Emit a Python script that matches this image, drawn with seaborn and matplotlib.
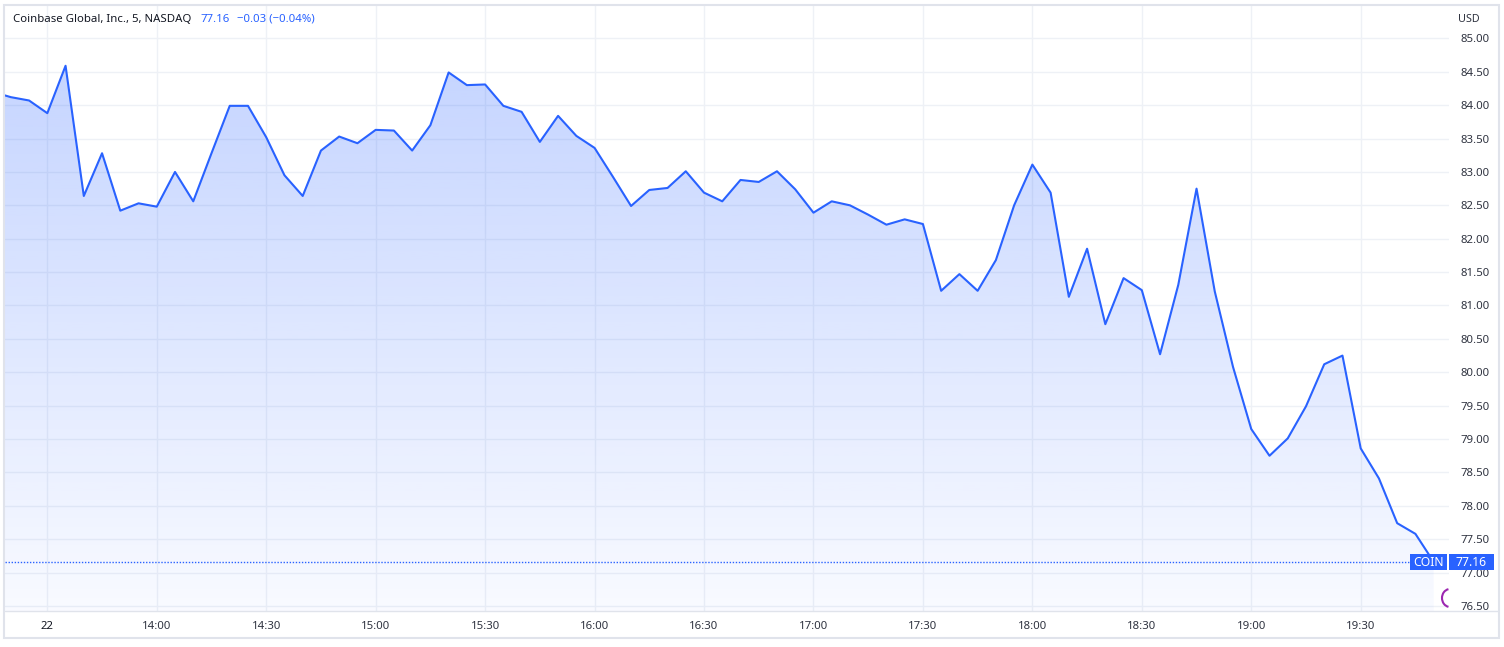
import matplotlib
matplotlib.use("Agg")
import matplotlib.pyplot as plt
import numpy as np
import pandas as pd
import seaborn as sns
from matplotlib.colors import to_rgb
from matplotlib.lines import Line2D
from matplotlib.patches import Arc, Rectangle

W, H = 1504, 647
LINE = "#2962FF"
TEXT = "#131722"
GRID = "#eef1f6"
BORDER = "#e0e3eb"

# 5-minute closes, starting 13:15 (first bar is partly off the left edge)
price = [
    84.20, 84.12, 84.07,
    83.88, 84.59, 82.64, 83.28, 82.42, 82.53,
    82.48, 83.00, 82.56, 83.28, 83.99, 83.99,
    83.52, 82.95, 82.64, 83.32, 83.53, 83.43,
    83.63, 83.62, 83.32, 83.70, 84.49, 84.30,
    84.31, 83.99, 83.90, 83.45, 83.84, 83.54,
    83.36, 82.93, 82.49, 82.73, 82.76, 83.01,
    82.69, 82.56, 82.88, 82.85, 83.01, 82.74,
    82.39, 82.56, 82.50, 82.36, 82.21, 82.29,
    82.22, 81.22, 81.47, 81.22, 81.68, 82.50,
    83.11, 82.69, 81.13, 81.85, 80.72, 81.41,
    81.23, 80.27, 81.31, 82.75, 81.21, 80.08,
    79.15, 78.75, 79.01, 79.49, 80.12, 80.25,
    78.86, 78.41, 77.74, 77.58, 77.16,
]
last_price = 77.16
title = "Coinbase Global, Inc., 5, NASDAQ"
change_text = "\u22120.03 (\u22120.04%)"

tick_minutes = [810, 840, 870, 900, 930, 960, 990, 1020, 1050, 1080, 1110, 1140, 1170]
tick_labels = ["22", "14:00", "14:30", "15:00", "15:30", "16:00", "16:30",
               "17:00", "17:30", "18:00", "18:30", "19:00", "19:30"]
price_ticks = [76.5, 77.0, 77.5, 78.0, 78.5, 79.0, 79.5, 80.0, 80.5,
               81.0, 81.5, 82.0, 82.5, 83.0, 83.5, 84.0, 84.5, 85.0]

sns.set_theme(style="white")
plt.rcParams["font.family"] = ["Noto Sans", "DejaVu Sans"]

times = pd.date_range("2022-01-01 13:15", periods=len(price), freq="5min")
df = pd.DataFrame({"minute": times.hour * 60 + times.minute, "price": price})

fig = plt.figure(figsize=(W / 100, H / 100), dpi=100)
ax = fig.add_axes([5 / W, 1 - 611 / H, 1444 / W, 606 / H])

x0, x1 = 798.4, 1194.2
y0, y1 = 76.425, 85.5

# gradient area under the line
top = df["price"].max()
rgba = np.zeros((256, 1, 4))
rgba[..., :3] = to_rgb(LINE)
rgba[:, 0, 3] = np.linspace(0.27, 0.03, 256)
im = ax.imshow(rgba, extent=[x0, x1, y0, top], aspect="auto", origin="upper",
               zorder=1, interpolation="bilinear")
poly = ax.fill_between(df["minute"], df["price"], y0, color="none", lw=0)
im.set_clip_path(poly.get_paths()[0], transform=ax.transData)

sns.lineplot(data=df, x="minute", y="price", color=LINE, lw=1.5, ax=ax, zorder=3)

ax.axhline(last_price, xmax=(1410 - 5) / 1444, color=LINE, ls=(0, (1, 1.2)), lw=1, zorder=2)

ax.set_xlim(x0, x1)
ax.set_ylim(y0, y1)
ax.set_xticks(tick_minutes)
ax.set_xticklabels(tick_labels)
ax.set_yticks(price_ticks)
ax.set_yticklabels([f"{v:.2f}" for v in price_ticks])
ax.yaxis.tick_right()
ax.grid(True, color=GRID, lw=1)
ax.set_axisbelow(True)
ax.set_xlabel("")
ax.set_ylabel("")
for s in ax.spines.values():
    s.set_visible(False)
ax.tick_params(axis="x", length=0, pad=7, labelsize=8.2, labelcolor="#2f3340")
ax.tick_params(axis="y", length=0, pad=8, labelsize=8.2, labelcolor="#2f3340")
ax.get_xticklabels()[0].set_fontweight("bold")
ax.get_xticklabels()[0].set_color(TEXT)

# frame and bottom scale line
fig.add_artist(Rectangle((4 / W, 1 - 638 / H), 1495 / W, 633 / H, fill=False,
                         edgecolor=BORDER, lw=1.5, transform=fig.transFigure))
fig.add_artist(Line2D([5 / W, 1498 / W], [1 - 611 / H] * 2, color=BORDER, lw=1,
                      transform=fig.transFigure))

# header
fig.text(13 / W, 1 - 19 / H, title, va="center", ha="left", size=8.2, color=TEXT)
fig.text(200 / W, 1 - 19 / H, "77.16", va="center", ha="left", size=8.2, color=LINE)
fig.text(237 / W, 1 - 19 / H, change_text, va="center", ha="left", size=8.2, color=LINE)
fig.text(1458 / W, 1 - 19 / H, "USD", va="center", ha="left", size=7.8, color="#2f3340")

# last price labels
for bx0, bx1, label in [(1410, 1447, "COIN"), (1449, 1494, f"{last_price:.2f}")]:
    fig.add_artist(Rectangle((bx0 / W, 1 - 570 / H), (bx1 - bx0) / W, 16 / H,
                             facecolor=LINE, edgecolor="none", transform=fig.transFigure,
                             zorder=5))
    fig.text((bx0 + bx1) / 2 / W, 1 - 562 / H, label, ha="center", va="center",
             size=8.8, color="white", fontweight="bold", zorder=6)

fig.add_artist(Arc((1450 / 100, (H - 598) / 100), 0.16, 0.18, theta1=100, theta2=260,
                   transform=fig.dpi_scale_trans, color="#9c27b0", lw=1.5))

fig.savefig("out.png", dpi=100)
